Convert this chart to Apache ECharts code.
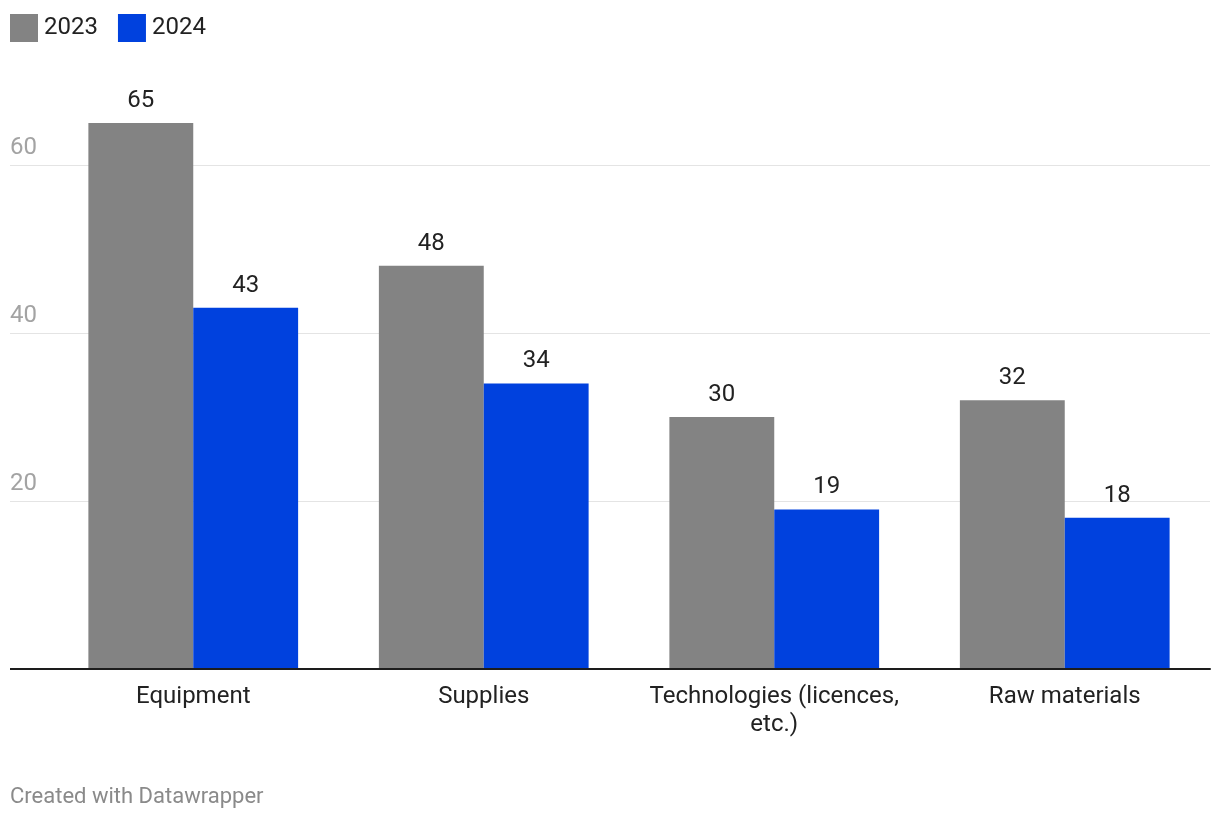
<!DOCTYPE html>
<html>
<head>
<meta charset="utf-8">
<script src="https://cdn.jsdelivr.net/npm/echarts@6/dist/echarts.min.js"></script>
<style>html,body{margin:0;padding:0;background:#fff;}#c{width:1220px;height:820px;}</style>
</head>
<body>
<div id="c"></div>
<script>
const categories = ['Equipment', 'Supplies', 'Technologies (licences,\netc.)', 'Raw materials'];
const values2023 = [65, 48, 30, 32];
const values2024 = [43, 34, 19, 18];
const seriesNames = ['2023', '2024'];
const yTicks = [0, 20, 40, 60];

const FONT = 'Roboto, sans-serif';
const chart = echarts.init(document.getElementById('c'), null, {renderer: 'canvas'});
chart.setOption({
  backgroundColor: '#fff',
  animation: false,
  textStyle: {fontFamily: FONT},
  legend: {
    left: 10, top: 14, itemWidth: 28, itemHeight: 28, itemGap: 20, padding: 0,
    icon: 'rect',
    textStyle: {fontSize: 24, color: '#222', fontFamily: FONT, padding: [0, 0, 0, 1]},
    data: seriesNames
  },
  grid: [
    {left: 10, right: 10, top: 165, bottom: 151},
    {left: 48, right: 10, top: 81, bottom: 151}
  ],
  xAxis: [
    {gridIndex: 0, type: 'value', min: 0, max: 1, axisLine: {show: false}, axisTick: {show: false}, axisLabel: {show: false}, splitLine: {show: false}},
    {gridIndex: 1, type: 'category', data: categories,
      axisLine: {show: true, onZero: false, lineStyle: {color: '#1d1d1d', width: 2}},
      axisTick: {show: false},
      axisLabel: {fontSize: 24, color: '#222', fontFamily: FONT, margin: 14, lineHeight: 28, interval: 0}}
  ],
  yAxis: [
    {gridIndex: 0, type: 'value', min: yTicks[0], max: yTicks[yTicks.length - 1], interval: 20,
      axisLine: {show: false}, axisTick: {show: false},
      splitLine: {lineStyle: {color: '#e4e4e4', width: 1}},
      axisLabel: {inside: true, margin: 0, align: 'left', verticalAlign: 'bottom', padding: [0, 0, 5, 0],
        fontSize: 24, color: '#a3a3a3', fontFamily: FONT,
        formatter: v => (v === 0 ? '' : String(v))}},
    {gridIndex: 1, type: 'value', min: 0, max: 70, show: false, splitLine: {show: false}}
  ],
  graphic: [
    {type: 'line', z: 100, shape: {x1: 10, y1: 669, x2: 1210, y2: 669}, style: {stroke: '#1d1d1d', lineWidth: 2}},
    {type: 'text', left: 10, top: 786, style: {text: 'Created with Datawrapper', fill: '#8a8a8a', fontSize: 22, fontFamily: FONT}}
  ],
  series: [
    {name: seriesNames[0], type: 'bar', xAxisIndex: 1, yAxisIndex: 1, data: values2023,
      barGap: '0%', barCategoryGap: '27.8%', itemStyle: {color: '#838383'},
      label: {show: true, position: 'top', distance: 10, fontSize: 24, color: '#222', fontFamily: FONT}},
    {name: seriesNames[1], type: 'bar', xAxisIndex: 1, yAxisIndex: 1, data: values2024,
      barGap: '0%', barCategoryGap: '27.8%', itemStyle: {color: '#0041de'},
      label: {show: true, position: 'top', distance: 10, fontSize: 24, color: '#222', fontFamily: FONT}}
  ]
});
</script>
</body>
</html>
